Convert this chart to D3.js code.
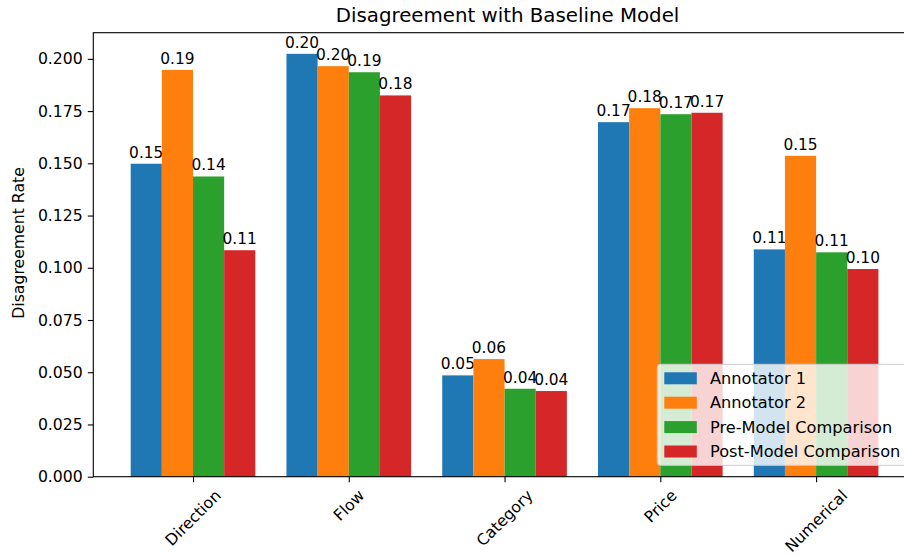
<!DOCTYPE html>
<html lang="en">

<head>
    <meta charset="UTF-8">
    <title>Disagreement with Baseline Model</title>
    <script src="https://cdn.jsdelivr.net/npm/d3@7"></script>
    <style>
        body { margin: 0; background: #fff; }
        text { font-family: "DejaVu Sans", sans-serif; fill: #000; }
    </style>
</head>

<body>
    <svg width="904" height="555"></svg>
    <script>
        var categories = ['Direction', 'Flow', 'Category', 'Price', 'Numerical'];
        var seriesNames = ['Annotator 1', 'Annotator 2', 'Pre-Model Comparison', 'Post-Model Comparison'];
        var annotator1 = [0.1498, 0.2024, 0.0485, 0.1697, 0.1088];
        var annotator2 = [0.1947, 0.1965, 0.0563, 0.1764, 0.1536];
        var preModel = [0.1437, 0.1936, 0.0421, 0.1735, 0.1074];
        var postModel = [0.1084, 0.1825, 0.0410, 0.1742, 0.0994];
        var yTicks = [0, 0.025, 0.05, 0.075, 0.1, 0.125, 0.15, 0.175, 0.2];
        var colors = ['#1f77b4', '#ff7f0e', '#2ca02c', '#d62728'];

        var allSeries = [annotator1, annotator2, preModel, postModel];
        var fs = 15.7;
        var barW = 0.2;

        var svg = d3.select('svg');
        svg.append('rect').attr('width', 904).attr('height', 555).attr('fill', '#fff');

        // plot box (note: "top" is taken by window.top, so use other names)
        var axL = 93.3, axR = 915.8, axT = 32.7, axB = 476.7;

        // matplotlib style limits: 5% margin around bars
        var scaleX = d3.scaleLinear()
            .domain([-0.64, categories.length - 1 + 0.64])
            .range([axL, axR]);

        var yMax = d3.max(allSeries, function (s) { return d3.max(s); }) * 1.05;
        var scaleY = d3.scaleLinear()
            .domain([0, yMax])
            .range([axB, axT]);

        // bars
        allSeries.forEach(function (values, si) {
            var off = (si - 1.5) * barW;
            var g = svg.append('g');
            g.selectAll('rect').data(values).enter().append('rect')
                .attr('x', function (d, i) { return scaleX(i + off - barW / 2); })
                .attr('width', function () { return scaleX(barW) - scaleX(0); })
                .attr('y', function (d) { return scaleY(d); })
                .attr('height', function (d) { return axB - scaleY(d); })
                .attr('fill', colors[si]);

            g.selectAll('text').data(values).enter().append('text')
                .attr('x', function (d, i) { return scaleX(i + off); })
                .attr('y', function (d) { return scaleY(d) - 6; })
                .attr('text-anchor', 'middle')
                .style('font-size', '15.4px')
                .text(function (d) { return d3.format('.2f')(d); });
        });

        // y axis
        var axisY = d3.axisLeft(scaleY)
            .tickValues(yTicks)
            .tickFormat(d3.format('.3f'))
            .tickSize(5.5)
            .tickPadding(5)
            .tickSizeOuter(0);
        var gy = svg.append('g').attr('transform', 'translate(' + axL + ',0)').call(axisY);
        gy.select('.domain').remove();
        gy.selectAll('line').attr('stroke', '#000').attr('stroke-width', 1.1);
        gy.selectAll('text').style('font-size', fs + 'px').style('font-family', '"DejaVu Sans", sans-serif');

        // x axis
        var axisX = d3.axisBottom(scaleX)
            .tickValues(d3.range(categories.length))
            .tickFormat('')
            .tickSize(5.5)
            .tickSizeOuter(0);
        var gx = svg.append('g').attr('transform', 'translate(0,' + axB + ')').call(axisX);
        gx.select('.domain').remove();
        gx.selectAll('line').attr('stroke', '#000').attr('stroke-width', 1.1);

        // rotated category labels, centred on tick like matplotlib rotation=45
        categories.forEach(function (c, i) {
            var t = svg.append('text')
                .attr('text-anchor', 'middle')
                .attr('dominant-baseline', 'central')
                .style('font-size', fs + 'px')
                .text(c);
            var w = t.node().getComputedTextLength();
            var h = fs * 1.16;
            var half = (w + h) * Math.SQRT1_2 / 2;
            var cx = scaleX(i), cy = axB + 5.5 + 4 + half;
            t.attr('transform', 'translate(' + cx + ',' + cy + ') rotate(-45)');
        });

        // spines
        svg.append('rect')
            .attr('x', axL).attr('y', axT)
            .attr('width', axR - axL).attr('height', axB - axT)
            .attr('fill', 'none').attr('stroke', '#000').attr('stroke-width', 1.1);

        // title and y label
        svg.append('text')
            .attr('x', (axL + axR) / 2 + 3).attr('y', 22)
            .attr('text-anchor', 'middle')
            .style('font-size', '19.8px')
            .text('Disagreement with Baseline Model');

        svg.append('text')
            .attr('transform', 'translate(24,' + 243 + ') rotate(-90)')
            .attr('text-anchor', 'middle')
            .style('font-size', fs + 'px')
            .text('Disagreement Rate');

        // legend (lower right, partly outside the window)
        var lg = svg.append('g').attr('transform', 'translate(657.3,364.3)');
        lg.append('rect')
            .attr('width', 252).attr('height', 101)
            .attr('rx', 3)
            .attr('fill', '#fff').attr('fill-opacity', 0.8)
            .attr('stroke', '#cccccc').attr('stroke-width', 1);
        var items = lg.selectAll('g.item').data(seriesNames).enter().append('g')
            .attr('transform', function (d, i) { return 'translate(0,' + (14 + i * 24.4) + ')'; });
        items.append('rect')
            .attr('x', 7).attr('y', -6).attr('width', 32.5).attr('height', 12)
            .attr('fill', function (d, i) { return colors[i]; });
        items.append('text')
            .attr('x', 52.7).attr('y', 0)
            .attr('dominant-baseline', 'central')
            .style('font-size', '16.2px')
            .text(function (d) { return d; });
    </script>
</body>

</html>
